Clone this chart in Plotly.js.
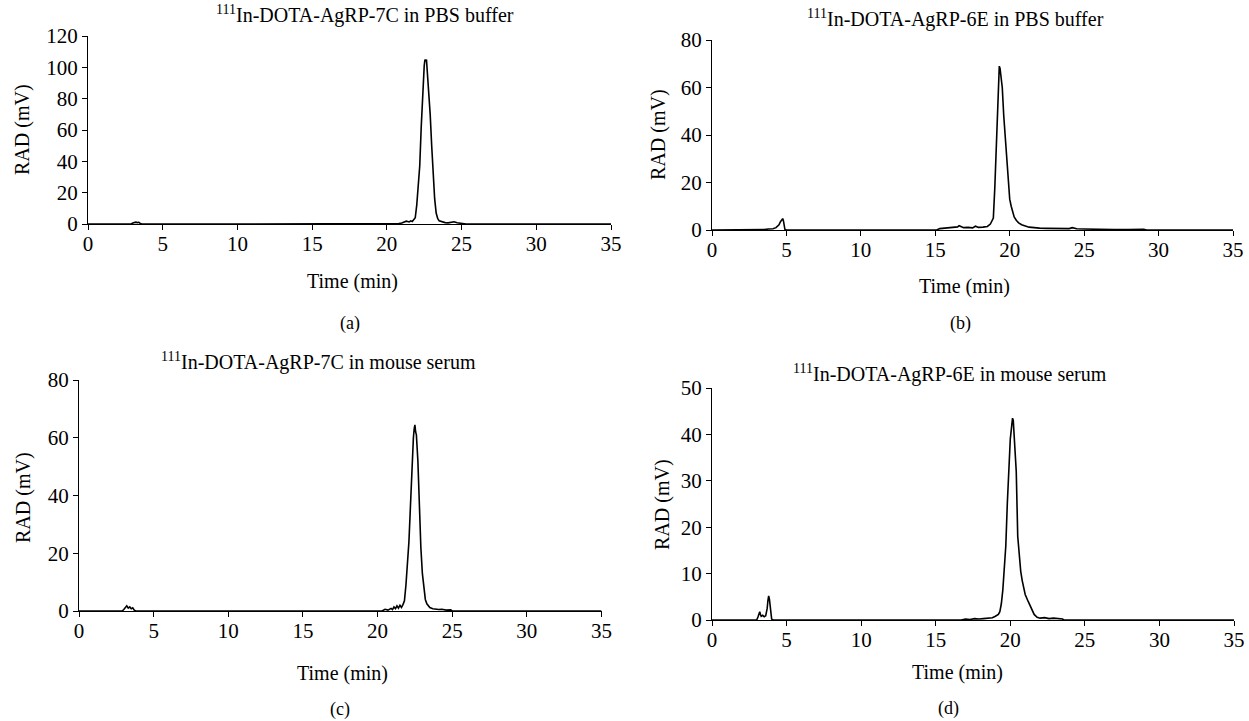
<!DOCTYPE html>
<html>
<head>
<meta charset="utf-8">
<script src="https://cdn.plot.ly/plotly-3.0.1.min.js"></script>
<style>html,body{margin:0;padding:0;background:#fff;}#chart{width:1249px;height:721px;}</style>
</head>
<body>
<div id="chart"></div>
<script>
// Panel (a): 111In-DOTA-AgRP-7C in PBS buffer
const timeA = [0, 2.9, 3.0, 3.1, 3.2, 3.3, 3.4, 3.5, 3.6, 10, 20.5, 20.8, 21.0, 21.2, 21.3, 21.5, 21.6, 21.7, 21.8, 21.9, 22.0, 22.1, 22.2, 22.3, 22.4, 22.5, 22.55, 22.6, 22.65, 22.7, 22.8, 22.9, 23.0, 23.1, 23.2, 23.3, 23.4, 23.5, 23.7, 23.9, 24.1, 24.3, 24.5, 24.7, 24.9, 25.1, 25.3, 35];
const radA  = [0, 0, 0.6, 1.0, 1.2, 0.9, 1.1, 0.4, 0, 0, 0, 0.3, 0.6, 1.2, 1.8, 1.3, 2.0, 1.6, 2.5, 4, 12, 23, 37, 62, 88, 101, 105, 104, 105, 99, 87, 70, 50, 30, 16, 7, 3.5, 2.0, 1.2, 0.9, 0.7, 1.0, 1.4, 0.8, 0.5, 0.6, 0, 0];

// Panel (b): 111In-DOTA-AgRP-6E in PBS buffer
const timeB = [0, 3.2, 3.5, 3.8, 4.1, 4.3, 4.5, 4.6, 4.7, 4.75, 4.8, 4.85, 4.9, 5.0, 15.1, 15.3, 15.6, 15.9, 16.2, 16.5, 16.6, 16.9, 17.2, 17.5, 17.7, 17.9, 18.2, 18.5, 18.7, 18.8, 18.9, 19.0, 19.1, 19.2, 19.25, 19.3, 19.35, 19.4, 19.45, 19.5, 19.6, 19.7, 19.8, 19.9, 20.0, 20.1, 20.2, 20.3, 20.45, 20.6, 20.8, 21.0, 21.1, 21.3, 21.6, 22.0, 22.5, 23.0, 23.5, 24.0, 24.2, 24.5, 25.0, 25.5, 26.0, 27.0, 28.0, 29.0, 29.2, 35];
const radB  = [0, 0, 0.2, 0.4, 0.5, 1.0, 2.2, 3.5, 4.5, 4.8, 3.8, 1.5, 0.2, 0, 0, 0.6, 0.8, 1.0, 0.9, 1.3, 1.8, 1.0, 1.1, 0.9, 1.6, 1.1, 1.2, 1.5, 2.5, 3.5, 5, 18, 34, 52, 62, 69, 68, 65, 62, 60, 48, 38, 28, 20, 13, 10, 8, 5.5, 4, 3, 2.2, 2.0, 1.6, 1.2, 0.9, 0.8, 0.7, 0.6, 0.5, 0.6, 1.0, 0.5, 0.4, 0.3, 0.3, 0.2, 0.2, 0.3, 0, 0];

// Panel (c): 111In-DOTA-AgRP-7C in mouse serum
const timeC = [0, 2.9, 3.0, 3.1, 3.2, 3.3, 3.4, 3.5, 3.6, 3.7, 3.8, 10, 20.3, 20.5, 20.7, 20.9, 21.0, 21.1, 21.2, 21.3, 21.4, 21.5, 21.6, 21.7, 21.8, 21.9, 22.0, 22.1, 22.2, 22.3, 22.4, 22.45, 22.5, 22.55, 22.6, 22.7, 22.8, 22.9, 23.0, 23.1, 23.2, 23.3, 23.4, 23.5, 23.7, 23.9, 24.1, 24.3, 24.6, 24.9, 25.0, 35];
const radC  = [0, 0, 0.5, 1.2, 1.8, 1.0, 1.4, 0.8, 1.1, 0.3, 0, 0, 0, 0.6, 0.3, 0.9, 0.5, 1.4, 0.8, 1.8, 1.0, 2.0, 1.2, 2.2, 3.5, 9, 15, 24, 36, 50, 60, 63, 64.5, 62, 61, 52, 34, 22, 13, 7, 4, 2.5, 1.6, 1.2, 0.8, 0.6, 0.5, 0.6, 0.3, 0.4, 0, 0];

// Panel (d): 111In-DOTA-AgRP-6E in mouse serum
const timeD = [0, 3.0, 3.1, 3.2, 3.25, 3.3, 3.4, 3.5, 3.6, 3.7, 3.75, 3.8, 3.85, 3.9, 3.95, 4.0, 4.1, 16.7, 17.0, 17.3, 17.6, 17.9, 18.2, 18.5, 18.8, 19.0, 19.2, 19.3, 19.4, 19.5, 19.6, 19.7, 19.8, 19.9, 20.0, 20.1, 20.15, 20.2, 20.25, 20.3, 20.4, 20.5, 20.6, 20.7, 20.8, 20.9, 21.0, 21.2, 21.4, 21.6, 21.8, 22.0, 22.3, 22.6, 22.9, 23.2, 23.5, 23.6, 35];
const radD  = [0, 0, 0.8, 1.8, 1.2, 0.8, 1.0, 0.7, 0.9, 2.5, 4.2, 5.2, 4.5, 3.0, 1.0, 0.2, 0, 0, 0.2, 0.1, 0.3, 0.2, 0.3, 0.4, 0.5, 0.8, 1.2, 1.8, 3.5, 6.5, 12, 16, 25, 34, 39, 42, 43.5, 43, 40, 39, 32, 18, 14, 10.5, 8.5, 7, 5.5, 4.0, 2.5, 1.2, 0.6, 0.4, 0.5, 0.3, 0.4, 0.3, 0.2, 0, 0];

const panelTitles = [
  "<sup>111</sup>In-DOTA-AgRP-7C in PBS buffer",
  "<sup>111</sup>In-DOTA-AgRP-6E in PBS buffer",
  "<sup>111</sup>In-DOTA-AgRP-7C in mouse serum",
  "<sup>111</sup>In-DOTA-AgRP-6E in mouse serum"
];
const captions = ["(a)", "(b)", "(c)", "(d)"];
const xTitle = "Time (min)";
const yTitle = "RAD (mV)";
const yMax = [120, 80, 80, 50];
const yStep = [20, 20, 20, 10];

const W = 1249, H = 721;
const FONT = "'Liberation Serif', 'Times New Roman', serif";
const FS = 20;
const TFS = 21;
const px = v => v / W;
const py = v => 1 - v / H;

// pixel geometry of each plot area [left, right, top, bottom]
const boxes = [
  [88, 611, 36, 224],
  [712, 1233, 40, 230],
  [79, 601.5, 380, 611],
  [712, 1234, 388, 620]
];
// label positions [titleX, titleY, xTitleX, xTitleY, captionX, captionY, yTitleX, yTitleY]
const labelPos = [
  [365, 15, 352, 281, 350, 323, 22, 130],
  [955, 19, 964, 286, 960, 323, 658, 135],
  [318, 361, 342, 673, 340, 709, 23, 498],
  [950, 373, 957, 672, 948, 708, 662, 505]
];

const series = [[timeA, radA], [timeB, radB], [timeC, radC], [timeD, radD]];
const traces = series.map((s, i) => ({
  x: s[0], y: s[1], type: 'scatter', mode: 'lines',
  line: {color: '#000', width: 1.6},
  xaxis: 'x' + (i === 0 ? '' : i + 1),
  yaxis: 'y' + (i === 0 ? '' : i + 1),
  showlegend: false, hoverinfo: 'skip'
}));

const layout = {
  width: W, height: H, autosize: false,
  margin: {l: 0, r: 0, t: 0, b: 0},
  paper_bgcolor: '#fff', plot_bgcolor: '#fff',
  font: {family: FONT, size: FS, color: '#000'},
  showlegend: false,
  annotations: []
};

boxes.forEach((b, i) => {
  const sx = i === 0 ? '' : String(i + 1);
  layout['xaxis' + sx] = {
    domain: [px(b[0]), px(b[1])],
    anchor: 'y' + sx,
    range: [0, 35], dtick: 5, tick0: 0,
    showline: true, linecolor: '#000', linewidth: 1,
    ticks: 'outside', ticklen: 5, tickcolor: '#000', tickwidth: 1,
    ticklabelstandoff: -4,
    showgrid: false, zeroline: false,
    tickfont: {family: FONT, size: TFS, color: '#000'},
    fixedrange: true
  };
  layout['yaxis' + sx] = {
    domain: [py(b[3]), py(b[2])],
    anchor: 'x' + sx,
    range: [0, yMax[i]], dtick: yStep[i], tick0: 0,
    showline: true, linecolor: '#000', linewidth: 1,
    ticks: 'outside', ticklen: 5, tickcolor: '#000', tickwidth: 1,
    showgrid: false, zeroline: false,
    tickfont: {family: FONT, size: TFS, color: '#000'},
    fixedrange: true
  };
  const p = labelPos[i];
  const base = {xref: 'paper', yref: 'paper', showarrow: false, xanchor: 'center', yanchor: 'middle'};
  layout.annotations.push(Object.assign({}, base, {x: px(p[0]), y: py(p[1]), text: panelTitles[i], font: {family: FONT, size: FS, color: '#000'}}));
  layout.annotations.push(Object.assign({}, base, {x: px(p[2]), y: py(p[3]), text: xTitle, font: {family: FONT, size: FS, color: '#000'}}));
  layout.annotations.push(Object.assign({}, base, {x: px(p[4]), y: py(p[5]), text: captions[i], font: {family: FONT, size: 18, color: '#000'}}));
  layout.annotations.push(Object.assign({}, base, {x: px(p[6]), y: py(p[7]), text: yTitle, textangle: -90, font: {family: FONT, size: FS, color: '#000'}}));
});

Plotly.newPlot('chart', traces, layout, {staticPlot: true, displayModeBar: false});
</script>
</body>
</html>
